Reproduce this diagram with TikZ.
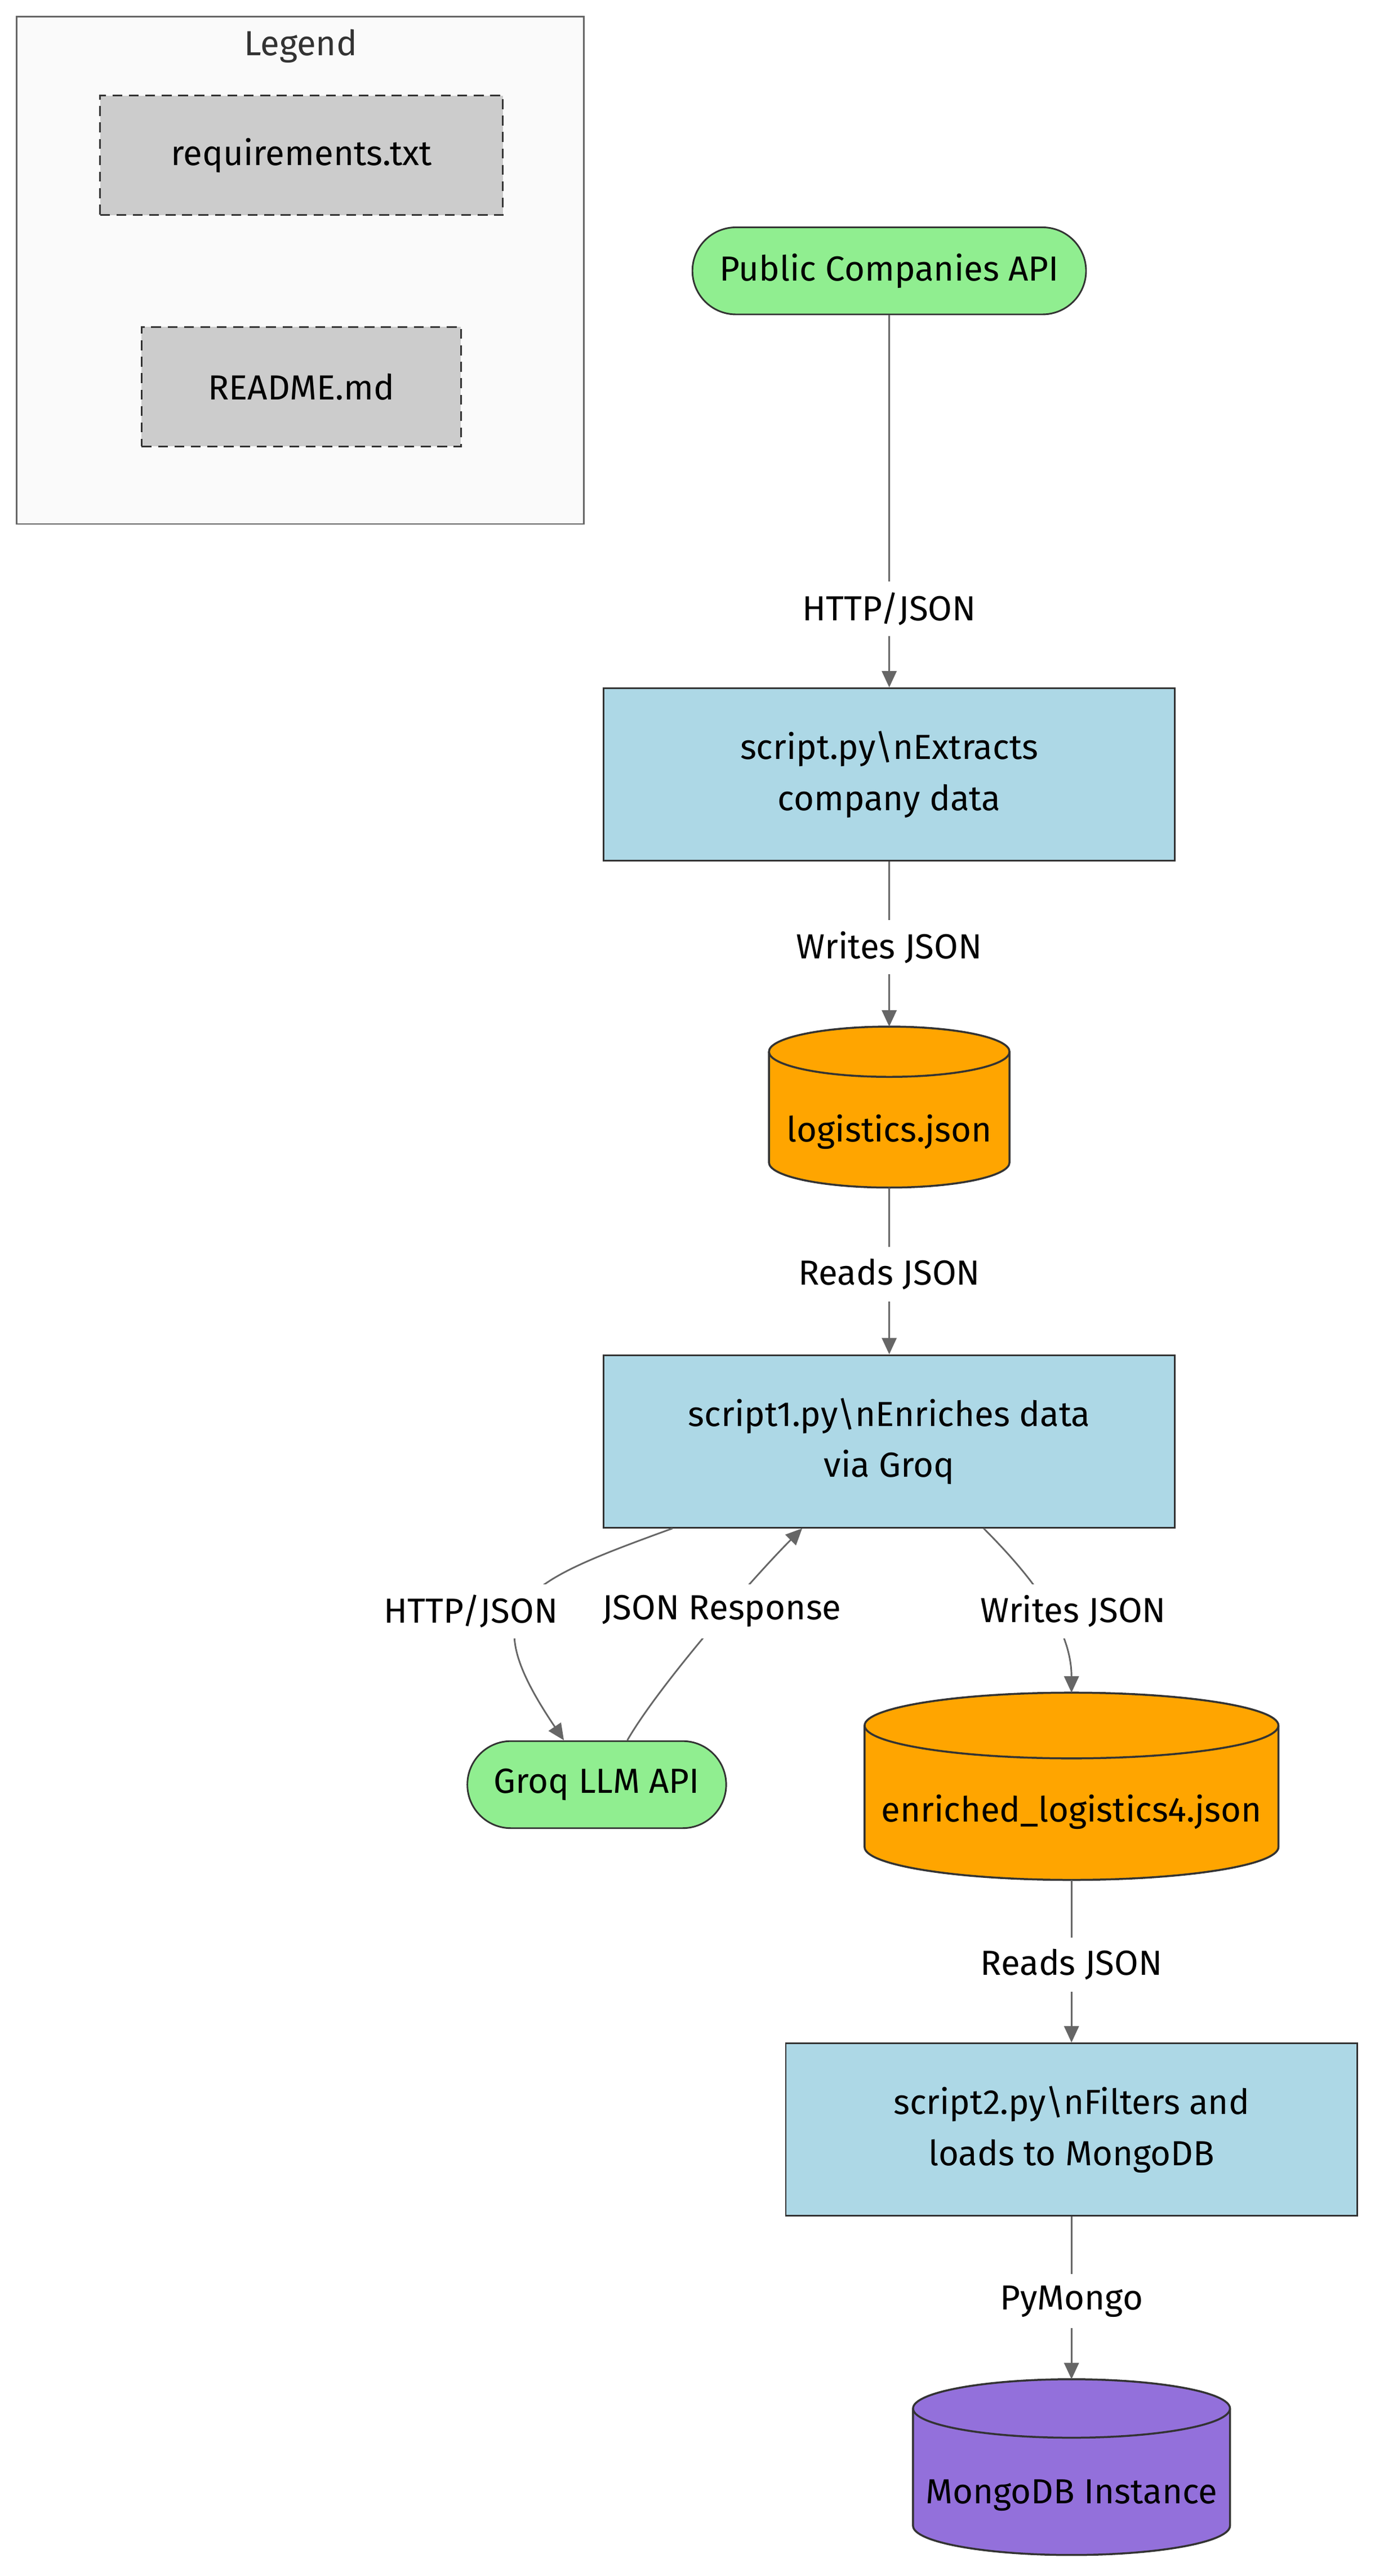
\documentclass[tikz,border=0pt]{standalone}
\usepackage{fontspec}
\setmainfont{Fira Sans}
\usepackage{xcolor}
\usepackage{tikz}
\usetikzlibrary{positioning, arrows.meta}

\definecolor{procblue}{HTML}{ADD8E6}
\definecolor{apigreen}{HTML}{90EE90}
\definecolor{fileorange}{HTML}{FFA500}
\definecolor{dbpurple}{HTML}{9370DB}
\definecolor{darkline}{HTML}{333333}
\definecolor{edgegray}{HTML}{666666}
\definecolor{notegray}{HTML}{CCCCCC}
\definecolor{legendbg}{HTML}{FAFAFA}

\tikzset{
  every node/.append style={font=\fontsize{21.2}{31}\selectfont},
  proc/.style={draw=darkline, line width=1pt, fill=procblue, minimum width=348, minimum height=105, align=center},
  ext/.style={draw=darkline, line width=1pt, fill=apigreen, rounded corners=26.5, minimum height=53},
  store/.style={draw=darkline, line width=1.2pt},
  dbbox/.style={inner sep=0, outer sep=0},
  note/.style={draw=darkline, dash pattern=on 6pt off 4pt, line width=1pt, fill=notegray, minimum height=72.8},
  flow/.style={draw=edgegray, line width=1pt, -{Triangle[length=10pt, width=9pt]}},
  elbl/.style={fill=white, inner xsep=2pt, inner ysep=0pt, minimum height=33, yshift=-2}
}

\begin{document}
\begin{tikzpicture}[x=1pt, y=1pt]
    \useasboundingbox (0,0) rectangle (837,-1568.3);
    % legend
    \node[draw=edgegray, line width=1pt, fill=legendbg, minimum width=345.5, minimum height=309, inner sep=0] (legend) at (182.75,-164.5) {};
    \node[text=darkline] (legendtitle) at (183,-28) {Legend};
    \node[note, minimum width=245.4] (reqs) at (183.6,-94.6) {requirements.txt};
    \node[note, minimum width=194.5] (readme) at (183.5,-235.4) {README.md};
    % main flow
    \node[ext, minimum width=239.7] (api) at (541.5,-164.9) {Public Companies API};
    \node[proc] (s0) at (541.5,-471.5) {script.py\textbackslash nExtracts\\company data};
    \node[dbbox, minimum width=146.5, minimum height=98] (logs) at (541.5,-674) {};
    \path[store, fill=fileorange] ([yshift=-15.3]logs.north west) -- ([yshift=15.3]logs.south west) arc[start angle=180, end angle=360, x radius=73.25, y radius=15.3] -- ([yshift=-15.3]logs.north east) arc[start angle=0, end angle=180, x radius=73.25, y radius=15.3] -- cycle;
    \draw[store] ([yshift=-15.3]logs.north west) arc[start angle=180, end angle=360, x radius=73.25, y radius=15.3];
    \node (logstxt) at (541.5,-689) {logistics.json};
    \node[proc] (s1) at (541.5,-877.5) {script1.py\textbackslash nEnriches data\\via Groq};
    \node[ext, minimum width=157.6] (groq) at (363.4,-1086.5) {Groq LLM API};
    \node[dbbox, minimum width=252, minimum height=114] (enr) at (652.5,-1087.5) {};
    \path[store, fill=fileorange] ([yshift=-20]enr.north west) -- ([yshift=20]enr.south west) arc[start angle=180, end angle=360, x radius=126, y radius=20] -- ([yshift=-20]enr.north east) arc[start angle=0, end angle=180, x radius=126, y radius=20] -- cycle;
    \draw[store] ([yshift=-20]enr.north west) arc[start angle=180, end angle=360, x radius=126, y radius=20];
    \node (enrtxt) at (652.5,-1103) {enriched\_logistics4.json};
    \node[proc] (s2) at (652.5,-1296.5) {script2.py\textbackslash nFilters and\\loads to MongoDB};
    \node[dbbox, minimum width=193, minimum height=107] (mongo) at (652.5,-1502) {};
    \path[store, fill=dbpurple] ([yshift=-17.8]mongo.north west) -- ([yshift=17.8]mongo.south west) arc[start angle=180, end angle=360, x radius=96.5, y radius=17.8] -- ([yshift=-17.8]mongo.north east) arc[start angle=0, end angle=180, x radius=96.5, y radius=17.8] -- cycle;
    \draw[store] ([yshift=-17.8]mongo.north west) arc[start angle=180, end angle=360, x radius=96.5, y radius=17.8];
    \node (mongotxt) at (652.5,-1519) {MongoDB Instance};
    % connectors
    \draw[flow] (api) -- node[elbl, pos=0.78] {HTTP/JSON} (s0);
    \draw[flow] (s0) -- node[elbl] {Writes JSON} (logs);
    \draw[flow] (logs) -- node[elbl] {Reads JSON} (s1);
    \draw[flow] ([xshift=42.5]s1.south west) .. controls +(200:100) and +(124:100) .. ([xshift=-20]groq.north);
    \draw[flow] ([xshift=18.6]groq.north) .. controls +(60:40) and +(225:40) .. ([xshift=-53]s1.south);
    \draw[flow] ([xshift=57.5]s1.south) .. controls +(315:40) and +(90:40) .. (enr.north);
    \node[elbl] (lhttp) at (286.8,-979) {HTTP/JSON};
    \node[elbl] (lresp) at (439.5,-979) {JSON Response};
    \node[elbl] (lwrite) at (653.5,-979) {Writes JSON};
    \draw[flow] (enr) -- node[elbl] {Reads JSON} (s2);
    \draw[flow] (s2) -- node[elbl] {PyMongo} (mongo);
\end{tikzpicture}
\end{document}
